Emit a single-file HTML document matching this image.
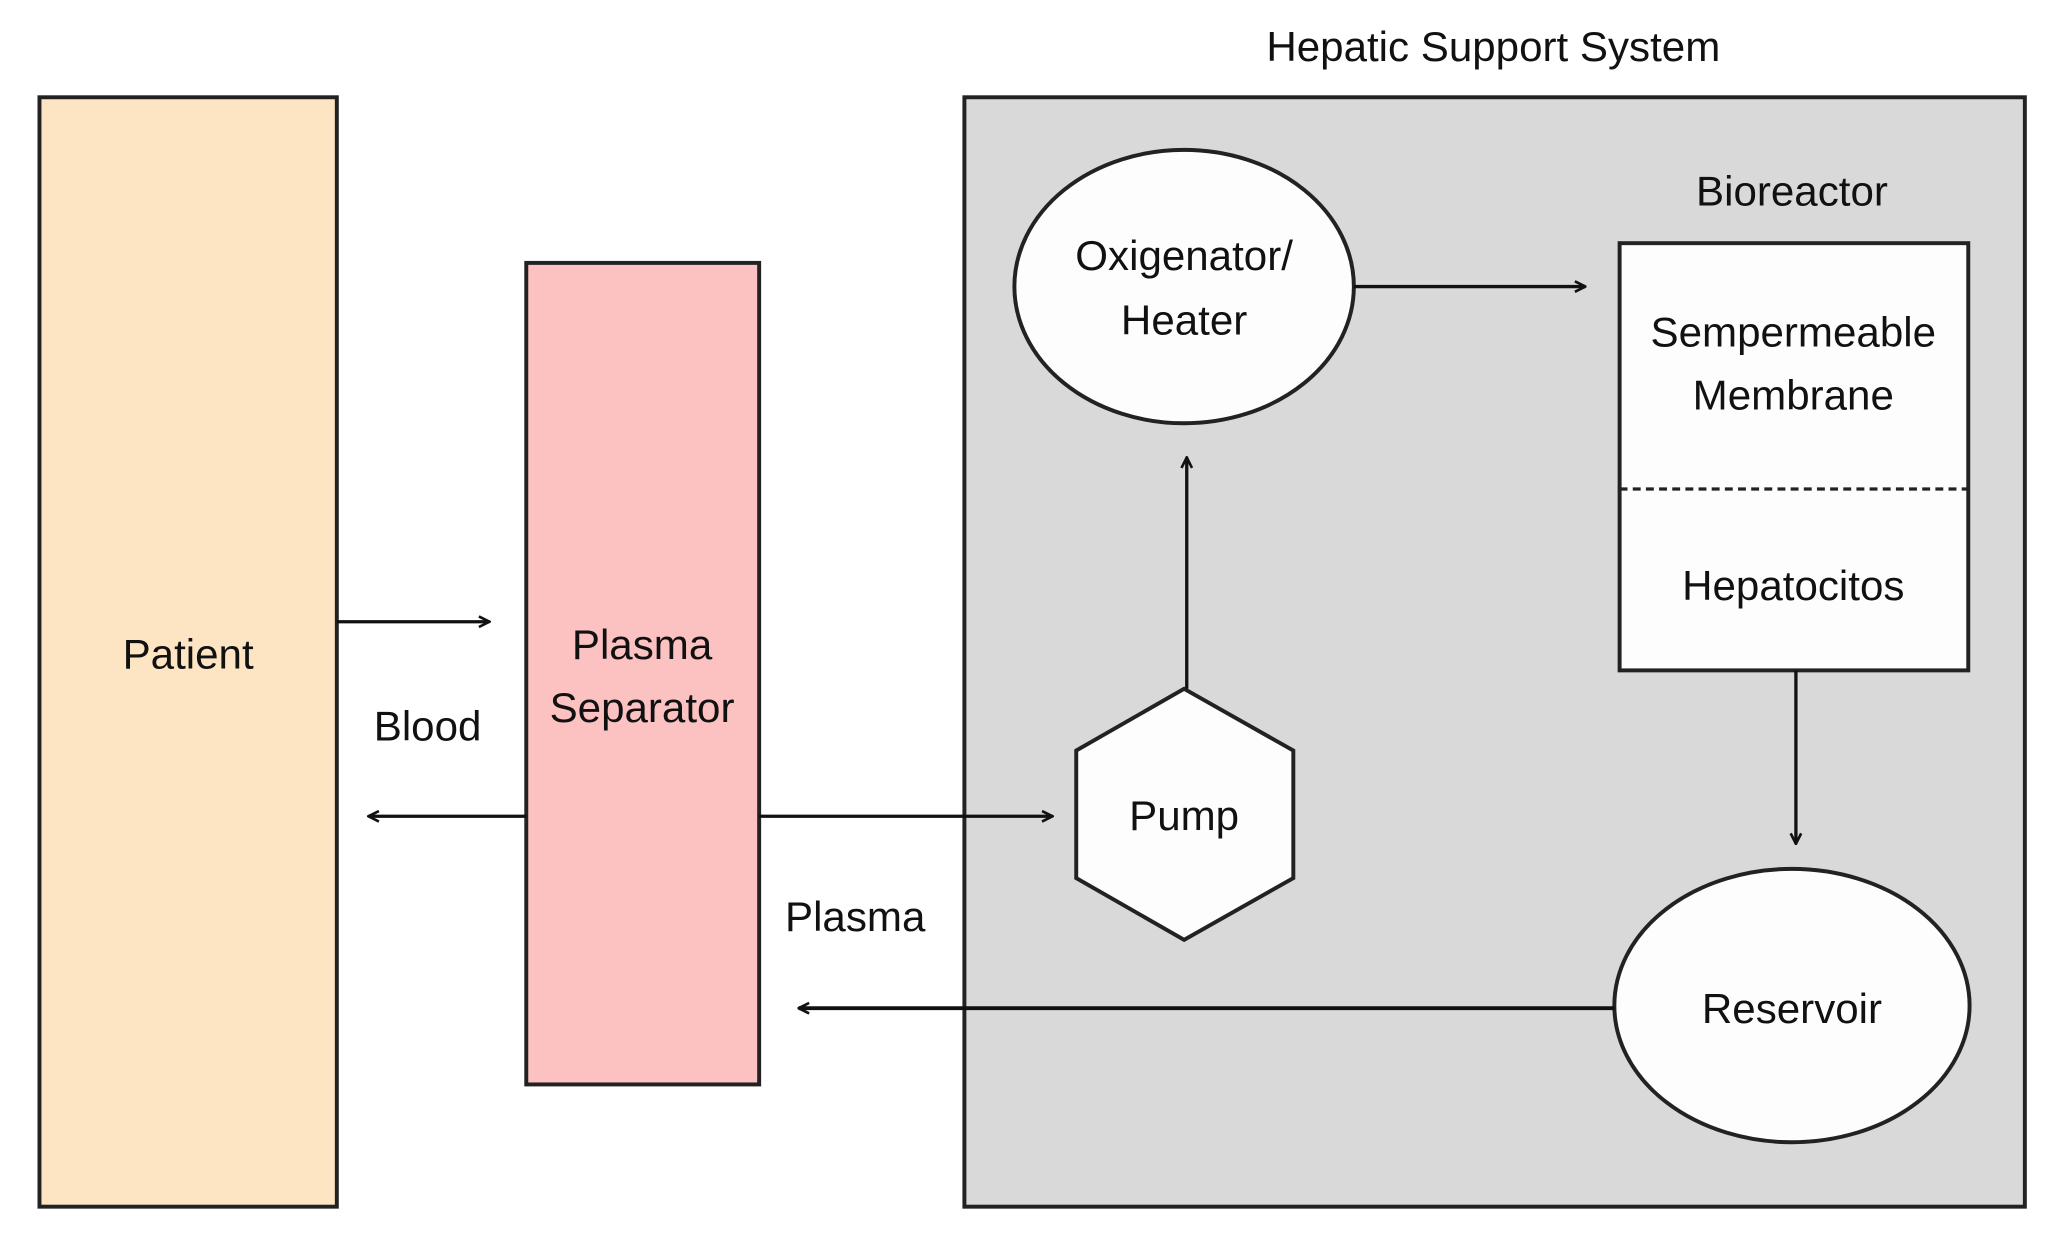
<!DOCTYPE html>
<html><head><meta charset="utf-8"><style>
html,body{margin:0;padding:0;background:#fff;}
svg{display:block;}
text{font-family:"Liberation Sans","DejaVu Sans",sans-serif;font-size:32px;fill:#111;text-anchor:middle;dominant-baseline:middle;}
</style></head><body>
<svg width="2063" height="1254" viewBox="0 0 1568 954" preserveAspectRatio="none" xmlns="http://www.w3.org/2000/svg">
<defs>
<marker id="a" viewBox="0 0 10 10" refX="9" refY="5" markerWidth="10" markerHeight="10" markerUnits="userSpaceOnUse" orient="auto">
<path d="M1,1 L9,5 L1,9" fill="none" stroke="#111" stroke-width="2"/>
</marker>
</defs>
<rect width="1568" height="954" fill="#fff"/>
<text x="1135" y="38">Hepatic Support System</text>
<rect x="30" y="74" width="226" height="844" fill="#fde5c3" stroke="#222" stroke-width="3"/>
<text x="143" y="500">Patient</text>
<rect x="400" y="200" width="177" height="625" fill="#fcc2c2" stroke="#222" stroke-width="3"/>
<text x="488" y="493">Plasma</text>
<text x="488" y="541">Separator</text>
<rect x="733" y="74" width="806" height="844" fill="#d9d9d9" stroke="#222" stroke-width="3"/>
<line x1="256" y1="473" x2="372" y2="473" stroke="#111" stroke-width="2.5" marker-end="url(#a)"/>
<text x="325" y="555">Blood</text>
<line x1="400" y1="621" x2="280" y2="621" stroke="#111" stroke-width="2.5" marker-end="url(#a)"/>
<line x1="577" y1="621" x2="800" y2="621" stroke="#111" stroke-width="2.5" marker-end="url(#a)"/>
<text x="650" y="700">Plasma</text>
<ellipse cx="900" cy="218" rx="129" ry="104" fill="#fdfdfd" stroke="#222" stroke-width="3"/>
<text x="900" y="197">Oxigenator/</text>
<text x="900" y="246">Heater</text>
<line x1="1029" y1="218" x2="1205" y2="218" stroke="#111" stroke-width="2.5" marker-end="url(#a)"/>
<text x="1362" y="148">Bioreactor</text>
<rect x="1231" y="185" width="265" height="325" fill="#fdfdfd" stroke="#222" stroke-width="3"/>
<line x1="1231" y1="372" x2="1496" y2="372" stroke="#222" stroke-width="2.5" stroke-dasharray="6,4"/>
<text x="1363" y="255">Sempermeable</text>
<text x="1363" y="303">Membrane</text>
<text x="1363" y="448">Hepatocitos</text>
<line x1="1365" y1="510" x2="1365" y2="642" stroke="#111" stroke-width="2.5" marker-end="url(#a)"/>
<ellipse cx="1362" cy="765" rx="135" ry="104" fill="#fdfdfd" stroke="#222" stroke-width="3"/>
<text x="1362" y="770">Reservoir</text>
<line x1="1227" y1="767" x2="607" y2="767" stroke="#111" stroke-width="3" marker-end="url(#a)"/>
<polygon points="900,524 983,571 983,668 900,715 818,668 818,571" fill="#fdfdfd" stroke="#222" stroke-width="3"/>
<text x="900" y="623">Pump</text>
<line x1="902" y1="524" x2="902" y2="348" stroke="#111" stroke-width="2.5" marker-end="url(#a)"/>
</svg>
</body></html>
